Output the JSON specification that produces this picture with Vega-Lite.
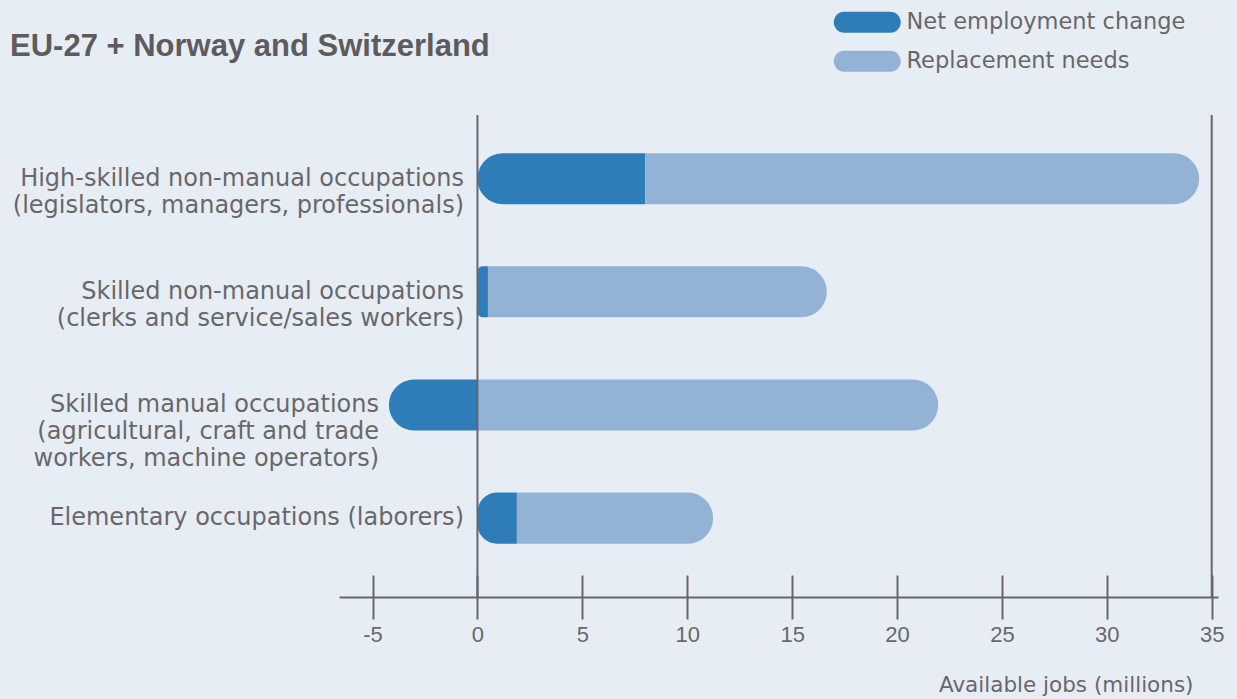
{
  "$schema": "https://vega.github.io/schema/vega-lite/v6.json",
  "autosize": "none",
  "width": 879,
  "height": 482,
  "padding": {"left": 339, "top": 115, "right": 19, "bottom": 102},
  "background": "#e7edf5",
  "config": {"view": {"stroke": null}, "font": "DejaVu Sans"},
  "title": {
    "text": "EU-27 + Norway and Switzerland",
    "anchor": "start",
    "frame": "group",
    "dx": -329,
    "offset": -52,
    "fontSize": 31,
    "fontWeight": "bold",
    "color": "#5e5b5f",
    "font": "Liberation Sans"
  },
  "datasets": {
    "bars": [
      {"occupation": "High-skilled non-manual occupations|(legislators, managers, professionals)", "type": "Net employment change", "value": 8.0},
      {"occupation": "High-skilled non-manual occupations|(legislators, managers, professionals)", "type": "Replacement needs", "value": 26.4},
      {"occupation": "Skilled non-manual occupations|(clerks and service/sales workers)", "type": "Net employment change", "value": 0.5},
      {"occupation": "Skilled non-manual occupations|(clerks and service/sales workers)", "type": "Replacement needs", "value": 16.15},
      {"occupation": "Skilled manual occupations|(agricultural, craft and trade|workers, machine operators)", "type": "Net employment change", "value": -4.22},
      {"occupation": "Skilled manual occupations|(agricultural, craft and trade|workers, machine operators)", "type": "Replacement needs", "value": 21.96},
      {"occupation": "Elementary occupations (laborers)", "type": "Net employment change", "value": 1.88},
      {"occupation": "Elementary occupations (laborers)", "type": "Replacement needs", "value": 9.35}
    ],
    "lines": [{"v": 0}, {"v": 35}]
  },
  "data": {"name": "bars"},
  "transform": [
    {"stack": "value", "groupby": ["occupation"], "sort": [{"field": "type", "order": "ascending"}], "as": ["start", "end"]}
  ],
  "layer": [
    {
      "transform": [{"filter": "datum.type === 'Net employment change'"}],
      "mark": {"type": "bar", "cornerRadiusTopLeft": 25.5, "cornerRadiusBottomLeft": 25.5},
      "encoding": {
        "y": {
          "field": "occupation", "type": "nominal", "sort": null,
          "scale": {"paddingInner": 0.549, "paddingOuter": 0.4045, "align": 0.417},
          "axis": {"title": null, "domain": false, "ticks": false, "offset": -138.5, "labelPadding": {"condition": {"test": "indexof(datum.value, 'Skilled manual') === 0", "value": 99}, "value": 14}, "labelFont": "DejaVu Sans", "labelFontSize": 24, "labelColor": "#6a676b", "labelLineHeight": 27, "labelExpr": "split(datum.label, '|')", "labelLimit": 0, "labelAlign": "right", "labelBaseline": "middle", "zindex": 1}
        },
        "x": {
          "field": "start", "type": "quantitative",
          "scale": {"domain": [-6.6, 35.3], "nice": false, "zero": false},
          "axis": {"orient": "bottom", "values": [-5, 0, 5, 10, 15, 20, 25, 30, 35], "grid": false, "domain": true, "domainColor": "#6b6468", "domainWidth": 2, "tickColor": "#6b6468", "tickWidth": 2, "tickSize": 22, "labelFont": "Liberation Sans", "labelFontSize": 22, "labelColor": "#6a676b", "labelPadding": 5, "labelFlush": false, "labelExpr": "replace(datum.label, '−', '-')", "title": "Available jobs (millions)", "titleFont": "DejaVu Sans", "titleFontSize": 21.5, "titleFontWeight": "normal", "titleColor": "#6a676b", "titleAnchor": "end", "titleAlign": "right", "titleX": 854, "titleY": 88, "titleBaseline": "middle"}
        },
        "x2": {"field": "end"},
        "color": {
          "field": "type", "type": "nominal",
          "scale": {"domain": ["Net employment change", "Replacement needs"], "range": ["#2e7db8", "#93b3d6"]},
          "legend": {"orient": "none", "legendX": 494, "legendY": -104, "title": null, "symbolType": "M-2.19,-1L2.19,-1A1,1 0 0 1 2.19,1L-2.19,1A1,1 0 0 1 -2.19,-1Z", "symbolSize": 441, "symbolOffset": 23, "symbolStrokeWidth": 0, "symbolOpacity": 1, "labelFont": "DejaVu Sans", "labelFontSize": 22.5, "labelColor": "#6a676b", "labelOffset": 28, "labelLimit": 0, "rowPadding": 16}
        }
      }
    },
    {
      "transform": [{"filter": "datum.type === 'Replacement needs'"}],
      "mark": {"type": "bar", "cornerRadiusTopRight": 25.5, "cornerRadiusBottomRight": 25.5},
      "encoding": {
        "y": {
          "field": "occupation", "type": "nominal", "sort": null,
          "scale": {"paddingInner": 0.549, "paddingOuter": 0.4045, "align": 0.417},
          "axis": {"title": null, "domain": false, "ticks": false, "offset": -138.5, "labelPadding": {"condition": {"test": "indexof(datum.value, 'Skilled manual') === 0", "value": 99}, "value": 14}, "labelFont": "DejaVu Sans", "labelFontSize": 24, "labelColor": "#6a676b", "labelLineHeight": 27, "labelExpr": "split(datum.label, '|')", "labelLimit": 0, "labelAlign": "right", "labelBaseline": "middle", "zindex": 1}
        },
        "x": {
          "field": "start", "type": "quantitative",
          "scale": {"domain": [-6.6, 35.3], "nice": false, "zero": false},
          "axis": {"orient": "bottom", "values": [-5, 0, 5, 10, 15, 20, 25, 30, 35], "grid": false, "domain": false, "labels": false, "title": null, "tickColor": "#6b6468", "tickWidth": 2, "tickSize": -22}
        },
        "x2": {"field": "end"},
        "color": {
          "field": "type", "type": "nominal",
          "scale": {"domain": ["Net employment change", "Replacement needs"], "range": ["#2e7db8", "#93b3d6"]},
          "legend": {"orient": "none", "legendX": 494, "legendY": -104, "title": null, "symbolType": "M-2.19,-1L2.19,-1A1,1 0 0 1 2.19,1L-2.19,1A1,1 0 0 1 -2.19,-1Z", "symbolSize": 441, "symbolOffset": 23, "symbolStrokeWidth": 0, "symbolOpacity": 1, "labelFont": "DejaVu Sans", "labelFontSize": 22.5, "labelColor": "#6a676b", "labelOffset": 28, "labelLimit": 0, "rowPadding": 16}
        }
      }
    },
    {
      "data": {"name": "lines"},
      "mark": {"type": "rule", "color": "#6b6468", "strokeWidth": 2},
      "encoding": {
        "x": {"field": "v", "type": "quantitative", "axis": null}
      }
    }
  ],
  "resolve": {"axis": {"x": "independent"}}
}
